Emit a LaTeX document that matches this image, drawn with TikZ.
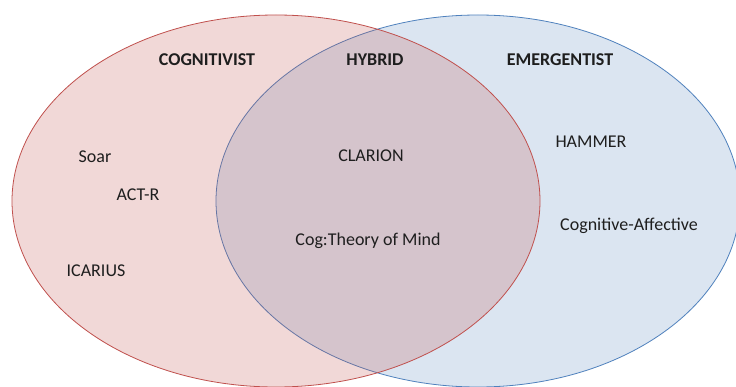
\documentclass[tikz,border=0pt]{standalone}
\usepackage{fontspec}
\setmainfont{Carlito}
\definecolor{cogred}{HTML}{C0504D}
\definecolor{emblue}{HTML}{4F81BD}
\definecolor{labeltext}{HTML}{1E1E1E}

\begin{document}
\begin{tikzpicture}[x=1pt,y=-1pt,font=\fontsize{18}{21}\selectfont,text=labeltext]
	\useasboundingbox (0,0) rectangle (736,387);
	\clip (0,0) rectangle (736,387);
	\fill[white] (0,0) rectangle (736,387);
	\draw[emblue, fill=emblue, fill opacity=0.2, line width=0.8pt] (478,201) ellipse [x radius=262, y radius=186];
	\draw[cogred, fill=cogred, fill opacity=0.22, line width=0.8pt] (276,201) ellipse [x radius=264, y radius=186];
	\node[font=\fontsize{18}{21}\selectfont\bfseries] (cog) at (207,60) {COGNITIVIST};
	\node[font=\fontsize{18}{21}\selectfont\bfseries] (hyb) at (375,60) {HYBRID};
	\node[font=\fontsize{18}{21}\selectfont\bfseries] (emg) at (560,60) {EMERGENTIST};
	\node (soar) at (95,157) {Soar};
	\node (actr) at (138,195) {ACT-R};
	\node (icar) at (96,271) {ICARIUS};
	\node (clar) at (371,156) {CLARION};
	\node (ctom) at (368,241) {Cog:Theory of Mind};
	\node (hamm) at (591,142) {HAMMER};
	\node (caff) at (629,226) {Cognitive-Affective};
\end{tikzpicture}
\end{document}
